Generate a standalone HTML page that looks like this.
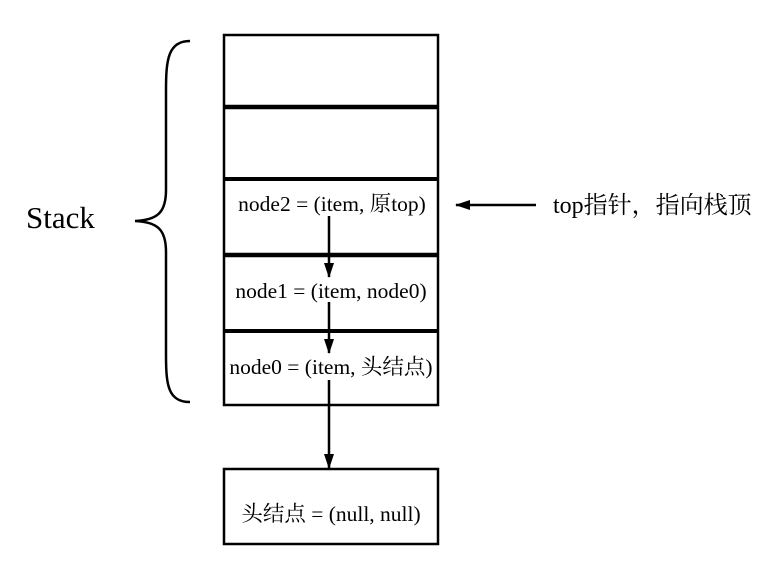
<!DOCTYPE html>
<html><head><meta charset="utf-8"><style>
html,body{margin:0;padding:0;background:#fff;}
svg{display:block;}
text{font-family:"Liberation Serif","Noto Serif CJK SC","Noto Sans CJK SC",serif;fill:#000;}
</style></head><body>
<svg width="776" height="577" viewBox="0 0 776 577">
<defs><marker id="ah" markerWidth="15" markerHeight="10" refX="14" refY="5" orient="auto" markerUnits="userSpaceOnUse"><path d="M0,0 L15,5 L0,10 z" fill="#000"/></marker></defs>
<path d="M190,41 C168,41 166,60 166,90 L166,190 C166,212 158,220 135,221 C158,222 166,230 166,252 L166,355 C166,385 168,402 190,402" fill="none" stroke="#000" stroke-width="2.5"/>
<text x="26" y="228" font-size="31">Stack</text>
<g>
<rect x="224" y="35" width="214" height="370" fill="none" stroke="#000" stroke-width="2.5"/>
<line x1="224" y1="107" x2="438" y2="107" stroke="#000" stroke-width="4.5"/>
<line x1="224" y1="179" x2="438" y2="179" stroke="#000" stroke-width="4"/>
<line x1="224" y1="255" x2="438" y2="255" stroke="#000" stroke-width="4.5"/>
<line x1="224" y1="331" x2="438" y2="331" stroke="#000" stroke-width="4"/>
</g>
<text x="332" y="211" font-size="21.5" text-anchor="middle">node2 = (item, 原top)</text>
<text x="331" y="298" font-size="21.5" text-anchor="middle">node1 = (item, node0)</text>
<text x="331" y="374" font-size="21.5" text-anchor="middle">node0 = (item, 头结点)</text>
<line x1="329" y1="216" x2="329" y2="277" stroke="#000" stroke-width="2.5" marker-end="url(#ah)"/>
<line x1="329" y1="302" x2="329" y2="353" stroke="#000" stroke-width="2.5" marker-end="url(#ah)"/>
<line x1="329" y1="380" x2="329" y2="468" stroke="#000" stroke-width="2.5" marker-end="url(#ah)"/>
<rect x="224" y="469" width="214" height="75" fill="none" stroke="#000" stroke-width="2.5"/>
<text x="331" y="521" font-size="21.5" text-anchor="middle">头结点 = (null, null)</text>
<line x1="536" y1="205" x2="456" y2="205" stroke="#000" stroke-width="2.5" marker-end="url(#ah)"/>
<text x="553" y="213" font-size="24">top指针，指向栈顶</text>
</svg>
</body></html>
